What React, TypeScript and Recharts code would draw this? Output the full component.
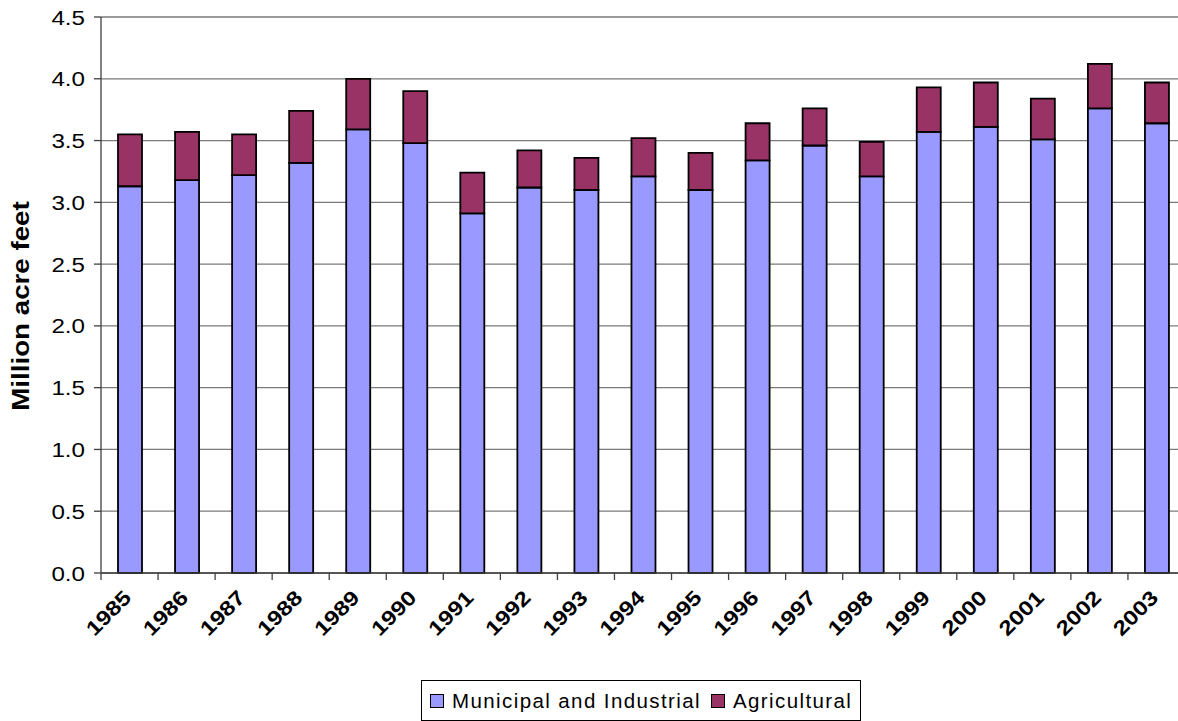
import React from "react";
import { Bar, BarChart, CartesianGrid, Legend, XAxis, YAxis } from "recharts";

const years = [
  "1985", "1986", "1987", "1988", "1989", "1990", "1991", "1992", "1993", "1994",
  "1995", "1996", "1997", "1998", "1999", "2000", "2001", "2002", "2003",
];
const municipal = [
  3.13, 3.18, 3.22, 3.32, 3.59, 3.48, 2.91, 3.12, 3.1, 3.21,
  3.1, 3.34, 3.46, 3.21, 3.57, 3.61, 3.51, 3.76, 3.64,
];
const agricultural = [
  0.42, 0.39, 0.33, 0.42, 0.41, 0.42, 0.33, 0.3, 0.26, 0.31,
  0.3, 0.3, 0.3, 0.28, 0.36, 0.36, 0.33, 0.36, 0.33,
];
const yTicks = [0, 0.5, 1, 1.5, 2, 2.5, 3, 3.5, 4, 4.5];

const seriesNames = { mi: "Municipal and Industrial", ag: "Agricultural" };
const colors = { mi: "#9999FF", ag: "#993366" };

const data = years.map((year, i) => ({
  year,
  mi: municipal[i],
  ag: agricultural[i],
}));

// chart box is a bit wider than the window: the original is cropped on the right
const W = 1200;
const H = 721;
const M = { top: 17, right: 15, bottom: 0, left: 0 };
const Y_W = 101;
const X_H = 148;
const BAND = (W - M.left - M.right - Y_W) / years.length;
const FONT = "Arial, 'Liberation Sans', sans-serif";
const STRETCH = "scale(1.18,1)";

const YTick = ({ x, y, payload }: any) => (
  <g transform={`translate(${x - 7},${y})`}>
    <text
      textAnchor="end"
      dy={7.5}
      transform={STRETCH}
      fontSize={20.5}
      fontFamily={FONT}
      fill="#000"
    >
      {Number(payload.value).toFixed(1)}
    </text>
  </g>
);

const XTick = ({ x, y, payload }: any) => (
  <g>
    <line x1={x - BAND / 2} x2={x - BAND / 2} y1={y} y2={y + 7} stroke="#404040" strokeWidth={1.3} />
    <g transform={`translate(${x + 3},${y + 26}) rotate(-45)`}>
      <text
        textAnchor="end"
        transform={STRETCH}
        fontSize={20.5}
        fontWeight="bold"
        fontFamily={FONT}
        fill="#000"
      >
        {payload.value}
      </text>
    </g>
  </g>
);

const YLabel = ({ viewBox }: any) => {
  const cx = viewBox.x + 29;
  const cy = viewBox.y + viewBox.height / 2 + 11;
  return (
    <g transform={`translate(${cx},${cy}) rotate(-90)`}>
      <text
        textAnchor="middle"
        transform={STRETCH}
        fontSize={23.5}
        fontWeight="bold"
        fontFamily={FONT}
        fill="#000"
      >
        Million acre feet
      </text>
    </g>
  );
};

const Swatch = ({ color }: { color: string }) => (
  <span
    style={{
      display: "inline-block",
      width: 12,
      height: 12,
      background: color,
      border: "1.5px solid #000",
      marginRight: 8,
    }}
  />
);

const LegendBox = () => (
  <div
    style={{
      border: "1px solid #000",
      height: 41,
      boxSizing: "border-box",
      display: "flex",
      alignItems: "center",
      padding: "0 8px",
      fontFamily: FONT,
      fontSize: 20.5,
      letterSpacing: 1.4,
      color: "#000",
      whiteSpace: "nowrap",
      background: "#fff",
    }}
  >
    <Swatch color={colors.mi} />
    <span style={{ marginRight: 10 }}>{seriesNames.mi}</span>
    <Swatch color={colors.ag} />
    <span>{seriesNames.ag}</span>
  </div>
);

export default function App() {
  return (
    <div
      style={{
        position: "absolute",
        left: 0,
        top: 0,
        width: 1178,
        height: H,
        overflow: "hidden",
        background: "#fff",
      }}
    >
      <BarChart width={W} height={H} data={data} margin={M} barSize={24}>
        <CartesianGrid vertical={false} stroke="#7a7a7a" strokeWidth={1.3} />
        <XAxis
          dataKey="year"
          height={X_H}
          interval={0}
          tickLine={false}
          tickSize={0}
          tickMargin={0}
          tick={<XTick />}
          axisLine={{ stroke: "#404040", strokeWidth: 1.3 }}
        />
        <YAxis
          width={Y_W}
          domain={[0, 4.5]}
          ticks={yTicks}
          interval={0}
          tickSize={7}
          tick={<YTick />}
          tickLine={{ stroke: "#404040", strokeWidth: 1.3 }}
          axisLine={{ stroke: "#404040", strokeWidth: 1.3 }}
          label={<YLabel />}
        />
        <Legend
          verticalAlign="middle"
          align="center"
          content={<LegendBox />}
          wrapperStyle={{ left: 421, top: 680, width: "auto" }}
        />
        <Bar
          dataKey="mi"
          name={seriesNames.mi}
          stackId="a"
          fill={colors.mi}
          stroke="#000"
          strokeWidth={1.8}
          isAnimationActive={false}
        />
        <Bar
          dataKey="ag"
          name={seriesNames.ag}
          stackId="a"
          fill={colors.ag}
          stroke="#000"
          strokeWidth={1.8}
          isAnimationActive={false}
        />
      </BarChart>
    </div>
  );
}
